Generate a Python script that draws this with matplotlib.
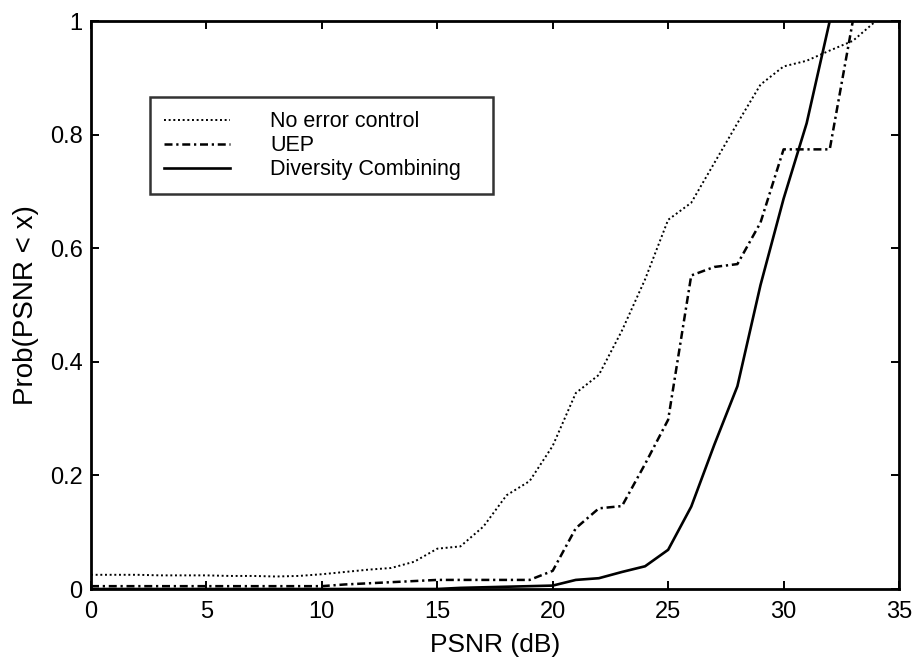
import matplotlib
matplotlib.use("Agg")
import matplotlib.pyplot as plt

plt.rcParams['font.family'] = ['Liberation Sans', 'DejaVu Sans']

# PSNR thresholds (dB)
psnr_no_ec = list(range(0, 35))
psnr_uep = list(range(0, 34))
psnr_div = list(range(0, 33))

# Empirical CDF values Prob(PSNR < x)
cdf_no_ec = [0.025, 0.025, 0.025, 0.024, 0.024, 0.024, 0.023, 0.023, 0.022, 0.023,
             0.026, 0.030, 0.034, 0.037, 0.048, 0.071, 0.075, 0.110, 0.165, 0.190,
             0.252, 0.345, 0.377, 0.455, 0.545, 0.650, 0.680, 0.750, 0.820, 0.888,
             0.920, 0.930, 0.948, 0.965, 1.000]
cdf_uep = [0.005, 0.005, 0.005, 0.005, 0.005, 0.005, 0.005, 0.005, 0.005, 0.005,
           0.005, 0.008, 0.010, 0.012, 0.014, 0.016, 0.016, 0.016, 0.016, 0.016,
           0.032, 0.107, 0.142, 0.146, 0.220, 0.298, 0.552, 0.567, 0.572, 0.645,
           0.774, 0.774, 0.774, 1.000]
cdf_div = [0.0, 0.0, 0.0, 0.0, 0.0, 0.0, 0.0, 0.0, 0.0, 0.0,
           0.0, 0.0, 0.0, 0.0, 0.0, 0.0, 0.002, 0.003, 0.004, 0.005,
           0.006, 0.016, 0.019, 0.030, 0.040, 0.069, 0.145, 0.254, 0.357, 0.535,
           0.687, 0.820, 1.000]

labels = ["No error control", "UEP", "Diversity Combining"]
x_ticks = [0, 5, 10, 15, 20, 25, 30, 35]
y_ticks = [0, 0.2, 0.4, 0.6, 0.8, 1]
y_tick_labels = ["0", "0.2", "0.4", "0.6", "0.8", "1"]

W, H = 917, 664
L, R, T, B = 91, 899, 21, 589

fig = plt.figure(figsize=(W / 100, H / 100), dpi=100)
ax = fig.add_axes([L / W, 1 - B / H, (R - L) / W, (B - T) / H])

ax.plot(psnr_no_ec, cdf_no_ec, color="black", lw=1.4, linestyle=(0, (1, 1.4)),
        label=labels[0])
ax.plot(psnr_uep, cdf_uep, color="black", lw=1.8, linestyle=(0, (3.2, 1.5, 0.9, 1.5)),
        label=labels[1])
ax.plot(psnr_div, cdf_div, color="black", lw=1.9, linestyle="-", label=labels[2])

ax.set_xlim(0, 35)
ax.set_ylim(0, 1)
ax.set_xticks(x_ticks)
ax.set_yticks(y_ticks)
ax.set_yticklabels(y_tick_labels)
ax.tick_params(direction="in", length=6, width=1.4, top=True, right=True,
               labelsize=17, colors="black")
ax.tick_params(axis="x", pad=9)
ax.tick_params(axis="y", pad=6)
for s in ax.spines.values():
    s.set_linewidth(2.0)
    s.set_color("black")

ax.set_xlabel("PSNR (dB)", fontsize=19, labelpad=7)
ax.set_ylabel("Prob(PSNR < x)", fontsize=20, labelpad=8)

# legend box spanning a fixed width in the upper-left region
lx0 = (150 - L) / (R - L)
lx1 = (493 - L) / (R - L)
ly1 = (B - 97) / (B - T)
leg = ax.legend(loc="upper left", bbox_to_anchor=(lx0, ly1 - 0.2, lx1 - lx0, 0.2),
                mode="expand", fontsize=15.5, frameon=True, fancybox=False,
                edgecolor="black", handlelength=3.07, handletextpad=1.86,
                labelspacing=0.14, borderpad=0.66, borderaxespad=0.0)
leg.get_frame().set_linewidth(1.8)

fig.savefig("out.png", dpi=100, facecolor="white")
